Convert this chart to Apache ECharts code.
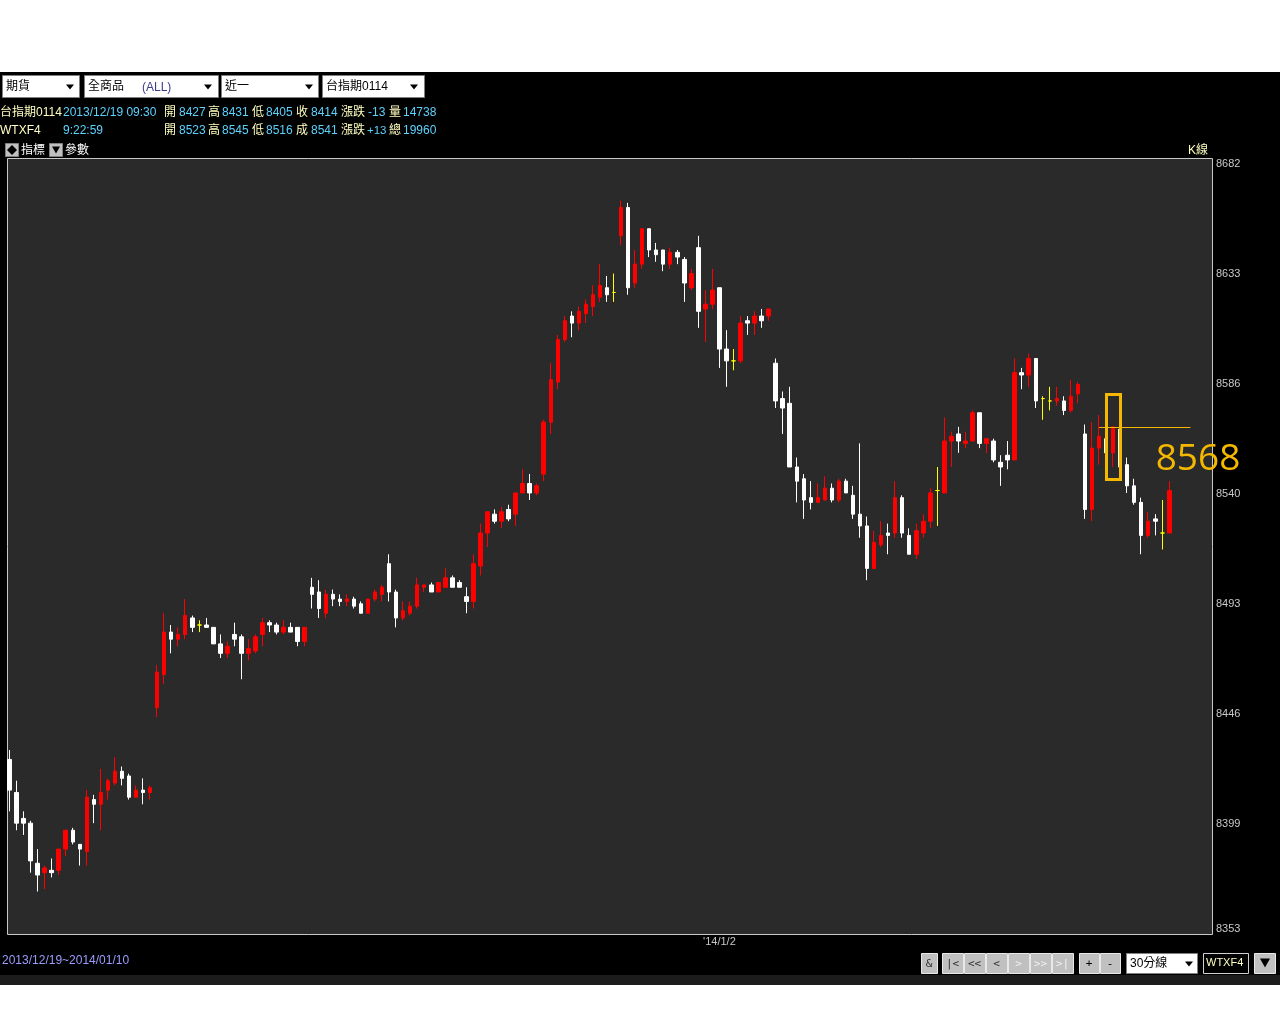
<!DOCTYPE html>
<html><head><meta charset="utf-8">
<script src="https://cdn.jsdelivr.net/npm/echarts@6/dist/echarts.min.js"></script>
<style>html,body{margin:0;padding:0;background:#fff;}#c{width:1280px;height:1024px;}</style>
</head><body><div id="c"></div><script>
// ---- data (30-min K bars, 台指期) ----
const opens = [
8427,8413,8402,8400,8383,8379,8380,8380,8389,8397,
8391,8388,8410,8408,8414,8417,8422,8420,8411,8414,
8413,8449,8463,8481,8478,8480,8487,8484,8484,8483,
8476,8472,8480,8479,8472,8473,8480,8485,8484,8481,
8483,8483,8477,8500,8498,8489,8497,8495,8494,8495,
8493,8489,8495,8497,8510,8498,8487,8489,8492,8500,
8501,8498,8500,8504,8502,8496,8494,8509,8523,8531,
8528,8533,8531,8540,8544,8540,8548,8570,8587,8605,
8615,8612,8616,8619,8623,8627,8625,8649,8661,8629,
8637,8652,8643,8643,8637,8642,8639,8627,8644,8618,
8620,8627,8601,8596,8596,8613,8612,8615,8615,8595,
8580,8578,8551,8546,8538,8536,8537,8542,8537,8545,
8539,8531,8526,8508,8518,8523,8523,8538,8522,8514,
8523,8528,8541,8540,8562,8565,8561,8562,8574,8561,
8562,8553,8556,8554,8591,8590,8597,8580,8579,8579,
8579,8575,8582,8565,8533,8559,8563,8557,8567,8552,
8543,8536,8522,8529,8523,8523];
const closes = [
8414,8400,8400,8384,8378,8381,8379,8389,8397,8392,
8389,8411,8408,8413,8418,8422,8419,8411,8414,8413,
8415,8464,8481,8478,8480,8488,8483,8484,8483,8476,
8472,8475,8478,8472,8474,8479,8485,8484,8481,8483,
8481,8477,8483,8497,8491,8497,8495,8494,8495,8492,
8489,8495,8498,8500,8498,8487,8490,8492,8501,8501,
8498,8502,8504,8500,8500,8494,8510,8523,8532,8528,
8532,8529,8540,8544,8540,8543,8570,8588,8605,8613,
8612,8617,8620,8624,8628,8624,8625,8661,8627,8637,
8652,8643,8641,8637,8642,8640,8629,8633,8617,8620,
8626,8601,8596,8596,8612,8612,8615,8613,8618,8579,
8576,8551,8545,8537,8536,8538,8542,8537,8545,8540,
8531,8526,8508,8519,8522,8522,8538,8523,8514,8524,
8528,8540,8541,8562,8564,8562,8562,8574,8561,8563,
8554,8551,8554,8591,8590,8597,8579,8580,8579,8580,
8575,8581,8586,8533,8559,8564,8557,8568,8551,8543,
8536,8522,8528,8528,8523,8541];
const lows = [
8405,8397,8395,8379,8371,8372,8377,8378,8386,8391,
8382,8382,8400,8397,8410,8416,8416,8410,8411,8408,
8410,8445,8459,8472,8475,8478,8481,8481,8483,8476,
8470,8470,8475,8461,8469,8472,8475,8481,8480,8480,
8481,8475,8475,8491,8487,8487,8492,8492,8492,8491,
8489,8489,8494,8494,8494,8483,8486,8488,8491,8498,
8498,8498,8500,8500,8500,8489,8491,8505,8517,8527,
8525,8528,8526,8540,8537,8539,8545,8565,8584,8604,
8606,8609,8612,8615,8621,8621,8621,8645,8624,8627,
8635,8640,8638,8634,8635,8637,8621,8626,8610,8604,
8618,8593,8585,8592,8595,8607,8607,8610,8613,8576,
8565,8551,8536,8529,8533,8536,8537,8536,8536,8540,
8529,8521,8503,8508,8517,8514,8521,8521,8514,8512,
8521,8525,8526,8540,8551,8557,8559,8562,8559,8557,
8553,8543,8550,8554,8584,8585,8576,8571,8575,8577,
8573,8574,8578,8529,8528,8552,8555,8551,8551,8540,
8535,8514,8521,8522,8516,8523];
const highs = [
8431,8418,8405,8401,8389,8382,8385,8389,8397,8398,
8391,8414,8412,8423,8419,8428,8424,8421,8416,8419,
8416,8467,8489,8484,8483,8495,8488,8486,8487,8483,
8480,8477,8485,8480,8478,8480,8487,8486,8485,8486,
8485,8483,8483,8504,8503,8499,8499,8497,8497,8496,
8494,8495,8499,8501,8514,8499,8494,8494,8504,8501,
8502,8502,8508,8505,8503,8500,8514,8527,8532,8533,
8534,8535,8540,8550,8548,8544,8571,8595,8607,8615,
8617,8619,8622,8628,8637,8632,8633,8664,8663,8643,
8652,8652,8646,8643,8644,8643,8640,8635,8649,8626,
8635,8627,8609,8601,8615,8615,8617,8618,8618,8597,
8583,8585,8555,8548,8545,8544,8547,8544,8546,8546,
8543,8561,8530,8524,8528,8527,8545,8539,8525,8527,
8531,8542,8551,8572,8566,8568,8566,8575,8574,8563,
8563,8556,8562,8597,8593,8599,8597,8581,8585,8585,
8581,8588,8587,8569,8570,8573,8566,8568,8567,8555,
8546,8538,8532,8531,8537,8545];
const yTickLabels = ['8353','8399','8446','8493','8540','8586','8633','8682'];
const yMin = 8353, yMax = 8682, yLabelStep = 46.64;
const dateLabel = "'14/1/2";
const dateLabelIndex = 101;
const slotCount = 172;
const markValue = 8568;
const markLineFrom = 155, markLineTo = 168.1;
const markBox = [155.8, 8582, 158.3, 8546];

// ---- build ----
const cats = [];
for (let i = 0; i < slotCount; i++) cats.push(i === dateLabelIndex ? dateLabel : '');
const kdata = opens.map((o, i) => [o, closes[i], lows[i], highs[i]]);

const CREAM = '#ffffc0', CYAN = '#5cd3ff', FONT = '"Liberation Sans","Noto Sans CJK TC",sans-serif';
const ORANGE = '#f5b800';
const G = [];
function txt(x, y, s, color, size, extra) {
  G.push(Object.assign({type: 'text', x: x, y: y, z: 50,
    style: {text: s, fill: color, font: (size || 12) + 'px ' + FONT, verticalAlign: 'middle'}}, extra || {}));
}
function rect(x, y, w, h, fill, stroke, z, lw) {
  G.push({type: 'rect', z: z == null ? 1 : z, shape: {x: x, y: y, width: w, height: h},
    style: {fill: fill, stroke: stroke || null, lineWidth: lw || 1}});
}
function tri(cx, cy, w, h, color, z) {
  G.push({type: 'polygon', z: z || 20, shape: {points: [[cx - w / 2, cy - h / 2], [cx + w / 2, cy - h / 2], [cx, cy + h / 2]]}, style: {fill: color}});
}
// backgrounds
rect(0, 72, 1280, 903, '#000000', null, 0);
rect(0, 975, 1280, 10, '#1c1c1c', null, 0);
rect(7.5, 158.5, 1205, 776, '#2a2a2a', '#c8c8c8', 1);
// dropdowns top
const drops = [[2, 77, '期貨', 70], [84, 134, '全商品', 208], [221, 97, '近一', 309], [322, 102, '台指期0114', 414]];
drops.forEach(d => {
  rect(d[0] + 0.5, 75.5, d[1], 22, '#ffffff', '#808080', 5);
  txt(d[0] + 4, 87, d[2], '#000000', 12);
  tri(d[3], 87, 8, 5, '#000000', 20);
});
txt(142, 88, '(ALL)', '#3c3c8c', 12);
// info lines
const line1 = [[0, '台指期0114', CREAM], [63, '2013/12/19 09:30', CYAN], [164, '開', CREAM], [179, '8427', CYAN],
  [208, '高', CREAM], [222, '8431', CYAN], [252, '低', CREAM], [266, '8405', CYAN], [296, '收', CREAM], [311, '8414', CYAN],
  [341, '漲跌', CREAM], [368, '-13', CYAN], [389, '量', CREAM], [403, '14738', CYAN]];
const line2 = [[0, 'WTXF4', CREAM], [63, '9:22:59', CYAN], [164, '開', CREAM], [179, '8523', CYAN],
  [208, '高', CREAM], [222, '8545', CYAN], [252, '低', CREAM], [266, '8516', CYAN], [296, '成', CREAM], [311, '8541', CYAN],
  [341, '漲跌', CREAM], [367, '+13', CYAN], [389, '總', CREAM], [403, '19960', CYAN]];
line1.forEach(s => txt(s[0], 113, s[1], s[2], 12));
line2.forEach(s => txt(s[0], 131, s[1], s[2], s[1] === '+13' ? 11.5 : 12));
// indicator row
rect(5.5, 143.5, 13, 13, '#c0c0c0', '#808080', 5);
G.push({type: 'polygon', z: 20, shape: {points: [[12, 145], [17, 150], [12, 155], [7, 150]]}, style: {fill: '#000'}});
txt(21, 151, '指標', '#ffffff', 12);
rect(49.5, 143.5, 13, 13, '#c0c0c0', '#808080', 5);
tri(56, 150, 8, 7, '#000000', 20);
txt(65, 151, '參數', '#ffffff', 12);
txt(1188, 151, 'K線', CREAM, 12);
// bottom left range
txt(2, 961, '2013/12/19~2014/01/10', '#9c9cff', 12);
// bottom right buttons
const btns = [[921, 16, '&', '#303030'], [942, 21, '|<', '#303030'], [964, 21, '<<', '#303030'], [986, 21, '<', '#303030'],
  [1008, 21, '>', '#f0f0f0'], [1030, 21, '>>', '#f0f0f0'], [1052, 21, '>|', '#f0f0f0'], [1079, 20, '+', '#000000'], [1100, 20, '-', '#000000']];
btns.forEach(b => {
  rect(b[0] + 0.5, 953.5, b[1], 20, '#c0c0c0', '#e8e8e8', 5);
  G.push({type: 'text', z: 50, x: b[0] + b[1] / 2, y: 964, style: {text: b[2], fill: b[3], font: '11px "DejaVu Sans Mono",monospace', align: 'center', verticalAlign: 'middle'}});
});
rect(1126.5, 953.5, 71, 20, '#ffffff', '#808080', 5);
txt(1130, 964, '30分線', '#000000', 12);
tri(1189, 964, 8, 5, '#000000', 20);
rect(1203.5, 953.5, 45, 20, '#000000', '#d0d0d0', 5);
txt(1206, 963, 'WTXF4', CREAM, 11);
rect(1254.5, 953.5, 21, 20, '#c0c0c0', '#e8e8e8', 5);
tri(1265, 963, 10, 9, '#000000', 20);
// big mark value label
G.push({type: 'text', z: 60, x: 1198, y: 459,
  style: {text: String(markValue), fill: ORANGE, font: '37px "Open Sans",sans-serif', align: 'center', verticalAlign: 'middle'}});

const chart = echarts.init(document.getElementById('c'));
chart.setOption({
  animation: false,
  backgroundColor: '#ffffff',
  grid: {left: 6, right: 65, top: 158, bottom: 90, show: false},
  xAxis: {type: 'category', data: cats, boundaryGap: true,
    axisLine: {show: false}, axisTick: {show: false}, splitLine: {show: false},
    axisLabel: {interval: 0, color: '#c8c8c8', fontSize: 11, margin: 2, fontFamily: 'Liberation Sans'}},
  yAxis: {type: 'value', position: 'right', min: yMin, max: yMax, interval: yLabelStep,
    axisLine: {show: false}, axisTick: {show: false}, splitLine: {show: false},
    axisLabel: {color: '#c8c8c8', fontSize: 11, margin: 1, fontFamily: 'Liberation Sans',
      showMaxLabel: false, verticalAlignMinLabel: 'bottom',
      formatter: v => {
        const k = (v - yMin) / yLabelStep;
        if (Math.abs(k - Math.round(k)) > 0.02) return '';
        return yTickLabels[Math.round(k)] || '';
      }}},
  series: [{
    type: 'candlestick', data: kdata, barWidth: 4, z: 10,
    itemStyle: {color: '#ff0000', color0: '#ffffff', borderColor: '#ff0000', borderColor0: '#ffffff', borderColorDoji: '#ffff00', borderWidth: 1}
  }],
  graphic: G
});
// annotations placed through the chart's own scales
const pA = chart.convertToPixel({gridIndex: 0}, [markLineFrom, markValue]);
const pB = chart.convertToPixel({gridIndex: 0}, [markLineTo, markValue]);
const b1 = chart.convertToPixel({gridIndex: 0}, [markBox[0], markBox[1]]);
const b2 = chart.convertToPixel({gridIndex: 0}, [markBox[2], markBox[3]]);
const yLine = Math.round(pA[1]) + 0.5;
G.push({type: 'line', z: 40, shape: {x1: pA[0], y1: yLine, x2: pB[0], y2: yLine}, style: {stroke: ORANGE, lineWidth: 1}});
G.push({type: 'rect', z: 41, shape: {x: Math.round(b1[0]) + 0.5, y: Math.round(b1[1]) + 0.5, width: Math.round(b2[0] - b1[0]), height: Math.round(b2[1] - b1[1])},
  style: {fill: null, stroke: ORANGE, lineWidth: 3}});
chart.setOption({graphic: G});
</script></body></html>
